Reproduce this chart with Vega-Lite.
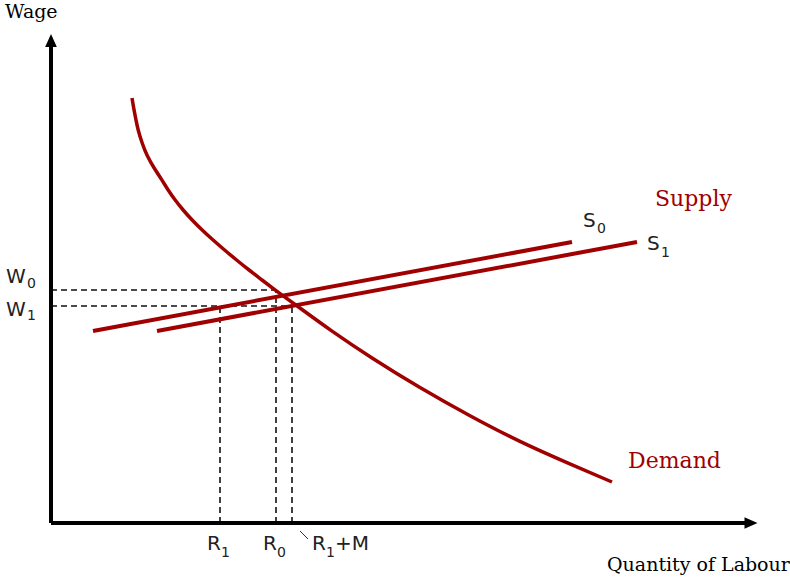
{
  "$schema": "https://vega.github.io/schema/vega-lite/v6.json",
  "width": 790,
  "height": 577,
  "autosize": {"type": "fit", "contains": "padding"},
  "padding": 0,
  "background": "white",
  "config": {"view": {"stroke": null}},
  "datasets": {
    "axes": [
      {"x": 0, "y": 0, "x2": 0, "y2": 478},
      {"x": 0, "y": 0, "x2": 696, "y2": 0}
    ],
    "arrows": [
      {"x": 0, "y": 482.5, "dir": "up"},
      {"x": 700, "y": 0, "dir": "right"}
    ],
    "guides": [
      {"x": 0, "y": 233, "x2": 225, "y2": 233},
      {"x": 225, "y": 0, "x2": 225, "y2": 233},
      {"x": 0, "y": 217, "x2": 241, "y2": 217},
      {"x": 241, "y": 0, "x2": 241, "y2": 217},
      {"x": 169, "y": 0, "x2": 169, "y2": 217}
    ],
    "supply": [
      {"curve": "S0", "x": 42, "y": 192, "x2": 521, "y2": 281},
      {"curve": "S1", "x": 106, "y": 192, "x2": 586, "y2": 281}
    ],
    "demand": [
      {"x": 81, "y": 425}, {"x": 83, "y": 413}, {"x": 85, "y": 403},
      {"x": 87, "y": 393}, {"x": 91, "y": 380}, {"x": 96, "y": 367},
      {"x": 103, "y": 355}, {"x": 111, "y": 343}, {"x": 117, "y": 333},
      {"x": 124, "y": 323}, {"x": 132, "y": 313}, {"x": 141, "y": 303},
      {"x": 151, "y": 293}, {"x": 162, "y": 283}, {"x": 173.5, "y": 273},
      {"x": 185.5, "y": 263}, {"x": 198, "y": 253}, {"x": 211, "y": 243},
      {"x": 224, "y": 233}, {"x": 231, "y": 228}, {"x": 249, "y": 215},
      {"x": 279, "y": 193}, {"x": 319, "y": 166}, {"x": 369, "y": 135},
      {"x": 419, "y": 107}, {"x": 469, "y": 81}, {"x": 519, "y": 59},
      {"x": 561, "y": 41}
    ],
    "tick": [{"x": 249, "y": -8, "x2": 257, "y2": -16}],
    "symbols": [
      {"x": -45, "y": 240, "label": "W"},
      {"x": -45, "y": 207, "label": "W"},
      {"x": 156, "y": -27, "label": "R"},
      {"x": 212, "y": -27, "label": "R"},
      {"x": 261, "y": -27, "label": "R"},
      {"x": 284, "y": -27, "label": "+M"},
      {"x": 532, "y": 296, "label": "S"},
      {"x": 596, "y": 273, "label": "S"}
    ],
    "subs": [
      {"x": -24, "y": 235, "label": "0"},
      {"x": -24, "y": 203, "label": "1"},
      {"x": 170, "y": -34, "label": "1"},
      {"x": 226, "y": -34, "label": "0"},
      {"x": 275, "y": -34, "label": "1"},
      {"x": 546, "y": 290, "label": "0"},
      {"x": 610, "y": 266, "label": "1"}
    ],
    "titles": [
      {"x": -46, "y": 505, "label": "Wage"},
      {"x": 556, "y": -48, "label": "Quantity of Labour"}
    ],
    "curveNames": [
      {"x": 604, "y": 317, "label": "Supply"},
      {"x": 577, "y": 55, "label": "Demand"}
    ]
  },
  "encoding": {
    "x": {"field": "x", "type": "quantitative", "axis": null,
          "scale": {"domain": [-51, 739], "nice": false, "zero": false}},
    "y": {"field": "y", "type": "quantitative", "axis": null,
          "scale": {"domain": [-54, 523], "nice": false, "zero": false}}
  },
  "layer": [
    {
      "data": {"name": "guides"},
      "mark": {"type": "rule", "color": "#111111", "strokeWidth": 1.6, "strokeDash": [6, 4]},
      "encoding": {"x2": {"field": "x2"}, "y2": {"field": "y2"}}
    },
    {
      "data": {"name": "axes"},
      "mark": {"type": "rule", "color": "#000000", "strokeWidth": 4},
      "encoding": {"x2": {"field": "x2"}, "y2": {"field": "y2"}}
    },
    {
      "data": {"name": "arrows"},
      "mark": {"type": "point", "filled": true, "color": "#000000", "opacity": 1, "size": 169, "strokeWidth": 0},
      "encoding": {
        "shape": {"field": "dir", "type": "nominal", "legend": null,
                  "scale": {"domain": ["up", "right"], "range": ["M0,-1L0.9,1L-0.9,1Z", "M1,0L-1,0.9L-1,-0.9Z"]}}
      }
    },
    {
      "data": {"name": "supply"},
      "mark": {"type": "rule", "color": "#a00000", "strokeWidth": 4},
      "encoding": {"x2": {"field": "x2"}, "y2": {"field": "y2"}}
    },
    {
      "data": {"name": "demand"},
      "mark": {"type": "line", "color": "#a00000", "strokeWidth": 3.5, "interpolate": "basis"},
      "encoding": {"order": {"field": "x", "type": "quantitative"}}
    },
    {
      "data": {"name": "tick"},
      "mark": {"type": "rule", "color": "#333333", "strokeWidth": 1},
      "encoding": {"x2": {"field": "x2"}, "y2": {"field": "y2"}}
    },
    {
      "data": {"name": "symbols"},
      "mark": {"type": "text", "font": "DejaVu Sans", "fontSize": 20, "color": "#222222", "align": "left", "baseline": "alphabetic"},
      "encoding": {"text": {"field": "label"}}
    },
    {
      "data": {"name": "subs"},
      "mark": {"type": "text", "font": "DejaVu Sans", "fontSize": 14, "color": "#222222", "align": "left", "baseline": "alphabetic"},
      "encoding": {"text": {"field": "label"}}
    },
    {
      "data": {"name": "titles"},
      "mark": {"type": "text", "font": "DejaVu Serif", "fontSize": 19, "color": "#000000", "align": "left", "baseline": "alphabetic"},
      "encoding": {"text": {"field": "label"}}
    },
    {
      "data": {"name": "curveNames"},
      "mark": {"type": "text", "font": "DejaVu Serif", "fontSize": 22, "color": "#a00000", "align": "left", "baseline": "alphabetic"},
      "encoding": {"text": {"field": "label"}}
    }
  ]
}
